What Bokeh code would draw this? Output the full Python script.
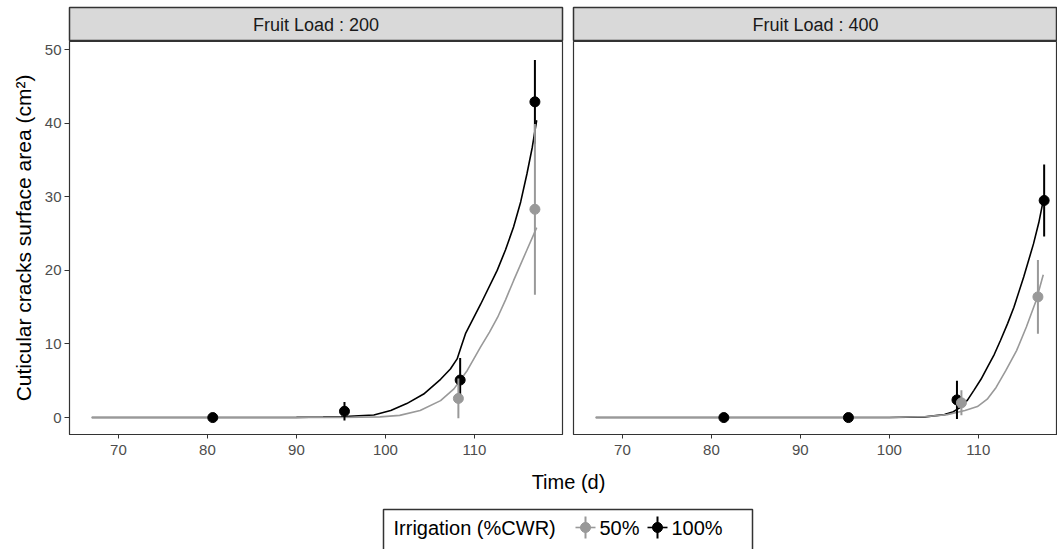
from bokeh.plotting import figure
from bokeh.layouts import column, row
from bokeh.models import Range1d, Label, FixedTicker
from bokeh.embed import file_html
from bokeh.resources import INLINE

FONT = "Liberation Sans"
GREY = "#999999"
BLACK = "#000000"

# ---------------- data ----------------
panels = ["Fruit Load : 200", "Fruit Load : 400"]
x_ticks = [70, 80, 90, 100, 110]
y_ticks = [0, 10, 20, 30, 40, 50]
legend_title = "Irrigation (%CWR)"
legend_labels = ["50%", "100%"]

# observed means (time, value, half error)
t200_50 = [108.2, 116.8]
y200_50 = [2.6, 28.3]
e200_50 = [2.7, 11.6]
t200_100 = [80.6, 95.4, 108.4, 116.8]
y200_100 = [0.0, 0.86, 5.1, 42.9]
e200_100 = [0.1, 1.25, 3.0, 5.7]

t400_50 = [108.1, 116.7]
y400_50 = [2.0, 16.4]
e400_50 = [1.7, 5.0]
t400_100 = [81.4, 95.4, 107.6, 117.4]
y400_100 = [0.0, 0.0, 2.4, 29.5]
e400_100 = [0.05, 0.05, 2.6, 4.9]

# fitted curves
ct200_100 = [67, 85, 90, 93, 95, 97, 98.7, 100.6, 102.4, 104.3, 106.2, 107.3, 108.06, 108.5, 109.0,
             110.7, 112.56, 113.5, 114.4, 115.2, 115.9, 116.5, 117.0]
cy200_100 = [0, 0.01, 0.03, 0.07, 0.12, 0.25, 0.35, 0.95, 1.9, 3.2, 5.2, 6.6, 7.97, 9.6, 11.4,
             15.4, 20.0, 22.8, 25.9, 29.3, 33.1, 36.7, 40.4]
ct200_50 = [67, 95, 99.4, 101.6, 103.9, 106.2, 107.7, 109.2, 110.7, 111.7, 112.6, 113.5, 114.4, 115.8, 117.0]
cy200_50 = [0, 0.02, 0.1, 0.3, 0.95, 2.3, 3.9, 6.4, 9.6, 11.6, 13.6, 16.0, 18.6, 22.5, 25.8]
ct400_100 = [67, 100, 104, 106.2, 107.2, 108.0, 108.8, 109.5, 110.3, 111.0, 111.8, 112.5, 113.3, 114.0,
             115.1, 116.2, 116.8, 117.3]
cy400_100 = [0, 0.02, 0.1, 0.4, 0.8, 1.4, 2.4, 3.7, 5.2, 6.8, 8.6, 10.5, 12.8, 15.0,
             19.1, 23.6, 26.5, 29.5]
ct400_50 = [67, 100, 104.3, 106.5, 108.5, 109.9, 111.0, 112.0, 113.1, 114.3, 115.4, 116.5, 117.3]
cy400_50 = [0, 0.02, 0.15, 0.4, 0.95, 1.5, 2.5, 4.1, 6.4, 9.1, 12.3, 15.9, 19.4]


def hide_grids(f):
    for g in f.grid:
        g.visible = False


def strip(text, fw, left, right):
    s = figure(frame_width=fw, frame_height=34, min_border_left=left, min_border_right=right,
               min_border_top=7, min_border_bottom=0, x_range=Range1d(0, 1), y_range=Range1d(0, 1),
               toolbar_location=None, output_backend="svg", x_axis_location=None, y_axis_location=None)
    hide_grids(s)
    s.background_fill_color = "#d9d9d9"
    s.border_fill_color = "white"
    s.outline_line_color = "#333333"
    s.outline_line_width = 1.5
    s.add_layout(Label(x=0.5, y=0.5, text=text, text_align="center",
                       text_baseline="middle", text_font=FONT, text_font_size="18px", text_color="#1a1a1a"))
    return s


def panel(fw, left, right, xr, show_y):
    p = figure(frame_width=fw, frame_height=393, min_border_left=left, min_border_right=right,
               min_border_top=0, min_border_bottom=30, x_range=Range1d(*xr), y_range=Range1d(-2.3, 51.1),
               toolbar_location=None, output_backend="svg",
               y_axis_location="left" if show_y else None)
    hide_grids(p)
    p.background_fill_color = "white"
    p.border_fill_color = "white"
    p.outline_line_color = "#333333"
    p.outline_line_width = 1.2
    p.xaxis.ticker = FixedTicker(ticks=x_ticks)
    p.xaxis.major_tick_out = 4
    p.xaxis.major_tick_in = 0
    p.xaxis.minor_tick_line_color = None
    p.xaxis.major_label_standoff = 6
    p.xaxis.major_label_text_font = FONT
    p.xaxis.major_label_text_font_size = "15px"
    p.xaxis.major_label_text_color = "#4d4d4d"
    p.xaxis.axis_line_color = "#333333"
    p.xaxis.major_tick_line_color = "#333333"
    if show_y:
        p.yaxis.ticker = FixedTicker(ticks=y_ticks)
        p.yaxis.major_tick_out = 5
        p.yaxis.major_tick_in = 0
        p.yaxis.minor_tick_line_color = None
        p.yaxis.major_label_standoff = 3
        p.yaxis.major_label_text_font = FONT
        p.yaxis.major_label_text_font_size = "15px"
        p.yaxis.major_label_text_color = "#4d4d4d"
        p.yaxis.axis_line_color = "#333333"
        p.yaxis.major_tick_line_color = "#333333"
        p.yaxis.axis_label = "Cuticular cracks surface area (cm²)"
        p.yaxis.axis_label_text_font = FONT
        p.yaxis.axis_label_text_font_size = "21px"
        p.yaxis.axis_label_text_font_style = "normal"
        p.yaxis.axis_label_text_color = "#000000"
        p.yaxis.axis_label_standoff = 7
    return p


def draw(p, series):
    # series: list of (curve_t, curve_y, t, y, e, color) in drawing order
    for ct, cy, t, y, e, c in series:
        p.line(ct, cy, line_color=c, line_width=1.6)
    for ct, cy, t, y, e, c in series:
        lo = [a - b for a, b in zip(y, e)]
        hi = [a + b for a, b in zip(y, e)]
        p.segment(x0=t, y0=lo, x1=t, y1=hi, line_color=c, line_width=2)
        p.scatter(x=t, y=y, size=10, fill_color=c, line_color=c)


s1 = strip(panels[0], 493, 69, 5)
s2 = strip(panels[1], 484, 6, 0)

p1 = panel(493, 69, 5, (64.5, 119.9), True)
p2 = panel(484, 6, 0, (64.5, 118.9), False)

draw(p1, [(ct200_100, cy200_100, t200_100, y200_100, e200_100, BLACK),
          (ct200_50, cy200_50, t200_50, y200_50, e200_50, GREY)])
draw(p2, [(ct400_100, cy400_100, t400_100, y400_100, e400_100, BLACK),
          (ct400_50, cy400_50, t400_50, y400_50, e400_50, GREY)])

# bottom: shared x title + legend (pixel coordinates, y downward)
b = figure(width=1057, height=85, min_border_left=0, min_border_right=0, min_border_top=0,
           min_border_bottom=0, x_range=Range1d(0, 1057), y_range=Range1d(85, 0),
           toolbar_location=None, output_backend="svg", x_axis_location=None, y_axis_location=None)
hide_grids(b)
b.outline_line_color = None
b.background_fill_color = "white"
b.border_fill_color = "white"
b.add_layout(Label(x=568, y=17, text="Time (d)", text_align="center", text_baseline="middle",
                   text_font=FONT, text_font_size="20px", text_color="#000000"))
b.quad(left=[383], right=[752], top=[45], bottom=[130], fill_color=None, line_color="#333333", line_width=1.5)
ly = 63
b.add_layout(Label(x=393, y=ly, text=legend_title, text_align="left", text_baseline="middle",
                   text_font=FONT, text_font_size="20px", text_color="#000000"))
key_x = [585, 657]
key_c = [GREY, BLACK]
for kx, kc in zip(key_x, key_c):
    b.segment(x0=[kx - 10], y0=[ly], x1=[kx + 10], y1=[ly], line_color=kc, line_width=1.6)
    b.segment(x0=[kx], y0=[ly - 11], x1=[kx], y1=[ly + 11], line_color=kc, line_width=2)
    b.scatter(x=[kx], y=[ly], size=10, fill_color=kc, line_color=kc)
b.add_layout(Label(x=key_x[0] + 14, y=ly, text=legend_labels[0], text_align="left", text_baseline="middle",
                   text_font=FONT, text_font_size="20px", text_color="#000000"))
b.add_layout(Label(x=key_x[1] + 14, y=ly, text=legend_labels[1], text_align="left", text_baseline="middle",
                   text_font=FONT, text_font_size="20px", text_color="#000000"))

layout = column(row(s1, s2), row(p1, p2), b)
open("out.html", "w").write(file_html(layout, INLINE))
